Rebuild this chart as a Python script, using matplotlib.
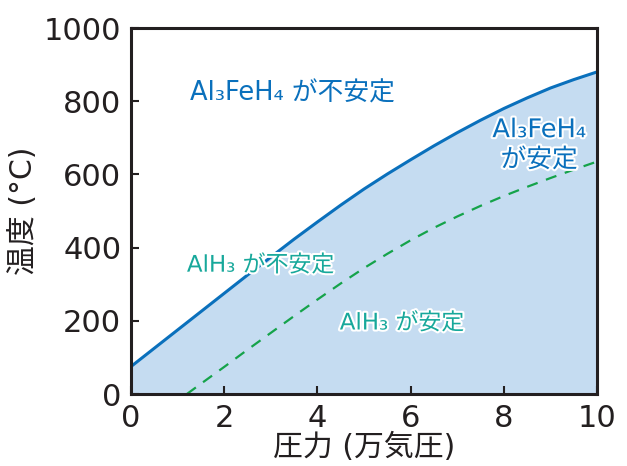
import matplotlib
matplotlib.use("Agg")
import matplotlib.pyplot as plt
import matplotlib.patheffects as pe

# Phase boundaries: pressure (10^4 atm) vs temperature (°C)
pressure_fe = [0, 0.5, 1, 1.5, 2, 2.5, 3, 3.5, 4, 4.5, 5,
               5.5, 6, 6.5, 7, 7.5, 8, 8.5, 9, 9.5, 10]
temp_fe = [75, 125, 175, 225, 275, 325, 374, 423, 470, 516, 560,
           601, 640, 678, 714, 748, 780, 809, 836, 859, 880]

pressure_alh3 = [1.2, 1.5, 2, 2.5, 3, 3.5, 4, 4.5, 5, 5.5,
                 6, 6.5, 7, 7.5, 8, 8.5, 9, 9.5, 10]
temp_alh3 = [0, 28, 74, 121, 167, 213, 258, 302, 344, 383,
             420, 454, 485, 514, 541, 566, 590, 613, 635]

xticks = [0, 2, 4, 6, 8, 10]
yticks = [0, 200, 400, 600, 800, 1000]

FONTS = ['DejaVu Sans', 'Noto Sans CJK JP']
DARK = '#231f20'
BLUE = '#0a70bc'
FILL = '#c5dcf1'
GREEN = '#15a34a'
TEAL = '#17a89b'

fig = plt.figure(figsize=(6.27, 4.66), dpi=100)
ax = fig.add_axes([0.2089, 0.1545, 0.7433, 0.7854])

ax.fill_between(pressure_fe, 0, temp_fe, color=FILL, lw=0, zorder=1)
ax.plot(pressure_fe, temp_fe, color=BLUE, lw=2.2, zorder=3)
ax.plot(pressure_alh3, temp_alh3, color=GREEN, lw=1.6,
        dashes=(5, 4), zorder=2)

ax.set_xlim(0, 10)
ax.set_ylim(0, 1000)
ax.set_xticks(xticks)
ax.set_yticks(yticks)
ax.tick_params(direction='in', length=6, width=1.5, color=DARK,
               labelsize=22, labelcolor=DARK, pad=7)
for lab in ax.get_xticklabels() + ax.get_yticklabels():
    lab.set_family('DejaVu Sans')
for s in ax.spines.values():
    s.set_linewidth(2.2)
    s.set_color(DARK)
    s.set_zorder(5)

ax.set_xlabel('圧力 (万気圧)', family=FONTS, fontsize=21.5, color=DARK, labelpad=0)
ax.set_ylabel('温度 (°C)', family=FONTS, fontsize=21.5, color=DARK, labelpad=4)

halo = [pe.withStroke(linewidth=3, foreground='white')]
ax.text(1.27, 822, 'Al₃FeH₄ が不安定', family=FONTS, fontsize=18.5,
        color=BLUE, ha='left', va='center', zorder=6)
ax.text(8.76, 680, 'Al₃FeH₄\nが安定', family=FONTS, fontsize=18.5,
        color=BLUE, ha='center', va='center', linespacing=1.2,
        path_effects=halo, zorder=6)
ax.text(1.2, 352, 'AlH₃ が不安定', family=FONTS, fontsize=16.5,
        color=TEAL, ha='left', va='center', path_effects=halo, zorder=6)
ax.text(4.48, 194, 'AlH₃ が安定', family=FONTS, fontsize=16.5,
        color=TEAL, ha='left', va='center', path_effects=halo, zorder=6)

fig.savefig('out.png', dpi=100)
